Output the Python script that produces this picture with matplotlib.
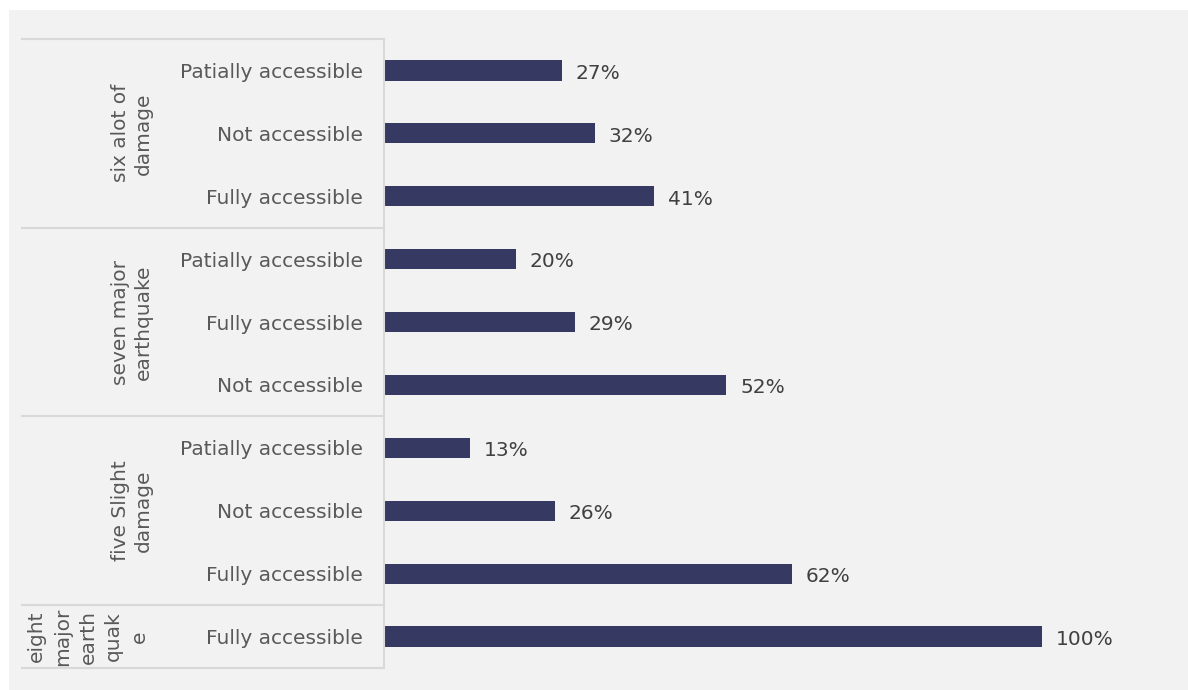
import matplotlib
matplotlib.use("Agg")
import matplotlib.pyplot as plt
from matplotlib.patches import Rectangle
from matplotlib.lines import Line2D

matplotlib.rcParams.update({'font.family': 'DejaVu Sans', 'font.size': 14.5})

# Donnees (de haut en bas)
categories = ["Patially accessible", "Not accessible", "Fully accessible",
              "Patially accessible", "Fully accessible", "Not accessible",
              "Patially accessible", "Not accessible", "Fully accessible",
              "Fully accessible"]
valeurs = [27, 32, 41, 20, 29, 52, 13, 26, 62, 100]
groupes = ["six alot of\ndamage", "seven major\nearthquake",
           "five Slight\ndamage", "eight\nmajor\nearth\nquak\ne"]
taille_groupes = [3, 3, 3, 1]

couleur_barre = "#363961"
gris_texte = "#595959"
gris_ligne = "#d9d9d9"

W, H = 1188, 690
fig = plt.figure(figsize=(W / 100, H / 100), dpi=100, facecolor="white")
fig.patches.append(Rectangle((9 / W, 0), 1 - 9 / W, 1 - 10 / H, lw=0,
                             transform=fig.transFigure, facecolor="#f2f2f2", zorder=-1))

x0, x1, y_bas, y_haut = 384, 1160, 668, 39
ax = fig.add_axes([x0 / W, (H - y_bas) / H, (x1 - x0) / W, (y_bas - y_haut) / H])
ax.set_facecolor("none")

pos = list(range(len(valeurs)))
ax.barh(pos, valeurs, height=0.32, color=couleur_barre)
ax.set_ylim(len(valeurs) - 0.5, -0.5)
ax.set_xlim(0, 100 * (x1 - x0) / (1042 - x0))

ax.set_yticks(pos)
ax.set_yticklabels(categories, color=gris_texte)
ax.tick_params(axis="y", length=0, pad=15)
ax.set_xticks([])
for s in ["top", "right", "bottom"]:
    ax.spines[s].set_visible(False)
ax.spines["left"].set_color(gris_ligne)
ax.spines["left"].set_linewidth(1.5)

for p, v in zip(pos, valeurs):
    ax.annotate(f"{v}%", (v, p), xytext=(10, -2), textcoords="offset points",
                va="center", ha="left", color="#404040", fontsize=14.5)

# Separateurs et etiquettes de groupes
tr = ax.get_yaxis_transform()
x_gauche = (22 - x0) / (x1 - x0)
debut = -0.5
ax.add_line(Line2D([x_gauche, 0], [debut, debut], transform=tr, color=gris_ligne,
                   lw=1.5, clip_on=False))
for g, n in zip(groupes, taille_groupes):
    fin = debut + n
    ax.add_line(Line2D([x_gauche, 0], [fin, fin], transform=tr, color=gris_ligne,
                       lw=1.5, clip_on=False))
    xc = (132 - x0) / (x1 - x0) if n > 1 else (88 - x0) / (x1 - x0)
    ax.text(xc, (debut + fin) / 2, g, transform=tr, rotation=90, ha="center",
            va="center", multialignment="center", color=gris_texte, fontsize=14.5,
            linespacing=1.3 if n > 1 else 1.45)
    debut = fin

fig.savefig("out.png", dpi=100, facecolor="white")
